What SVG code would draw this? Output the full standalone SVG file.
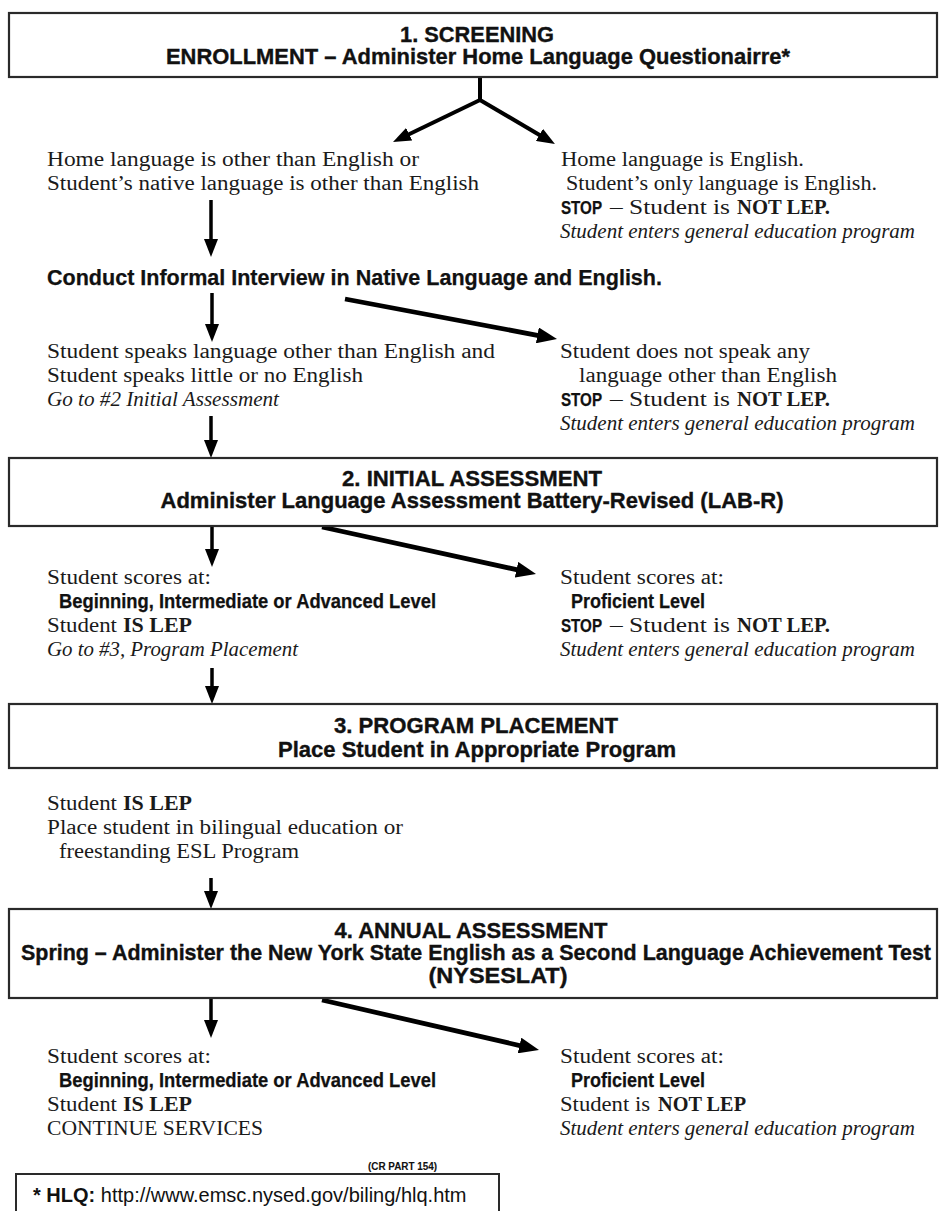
<svg xmlns="http://www.w3.org/2000/svg" width="939" height="1211" viewBox="0 0 939 1211">
<style>
.box{fill:#fff;stroke:#2a2a2a;stroke-width:2.2}
.h{font-family:"Liberation Sans Narrow","Liberation Sans",Arial,sans-serif;font-weight:bold;font-size:21.5px;fill:#111;stroke:#111;stroke-width:0.35;text-anchor:middle}
.s{font-family:"Liberation Serif","Times New Roman",serif;font-size:20px;fill:#1a1a1a}
.i{font-style:italic}
.b{font-weight:bold}
.sb{font-family:"Liberation Sans Narrow","Liberation Sans",Arial,sans-serif;font-weight:bold;font-size:19.5px;fill:#111;stroke:#111;stroke-width:0.25}
.stop{font-size:19px}
.c{stroke:#000;fill:none}
.v{stroke-width:3.5;marker-end:url(#ah)}
.d{stroke-width:4.8;marker-end:url(#ahd)}
</style>
<defs>
<marker id="ah" markerUnits="userSpaceOnUse" markerWidth="18" markerHeight="14" refX="6" refY="7" orient="auto">
<path d="M0,0 L18,7 L0,14 z" fill="#000"/>
</marker>
<marker id="ahd" markerUnits="userSpaceOnUse" markerWidth="20" markerHeight="16" refX="8" refY="8" orient="auto">
<path d="M0,0 L20,8 L0,16 z" fill="#000"/>
</marker>
</defs>
<rect width="939" height="1211" fill="#fff"/>

<g id="connectors">
<line x1="480" y1="77" x2="480" y2="101" stroke="#000" stroke-width="4"/>
<line class="c" x1="480" y1="100" x2="403.8" y2="136.8" stroke-width="4" marker-end="url(#ah)"/>
<line class="c" x1="480" y1="100" x2="544.6" y2="137.9" stroke-width="4" marker-end="url(#ah)"/>
<line class="c v" x1="211" y1="200" x2="211" y2="245"/>
<line class="c v" x1="212" y1="293" x2="212" y2="330"/>
<line class="c d" x1="345" y1="299" x2="545.2" y2="336.8"/>
<line class="c v" x1="211" y1="416" x2="211" y2="446"/>
<line class="c v" x1="212" y1="526" x2="212" y2="555"/>
<line class="c d" x1="322" y1="527" x2="524.3" y2="571.4"/>
<line class="c v" x1="212" y1="668" x2="212" y2="692"/>
<line class="c v" x1="211" y1="878" x2="211" y2="897"/>
<line class="c v" x1="211" y1="998" x2="211" y2="1026"/>
<line class="c d" x1="322" y1="1000" x2="527.3" y2="1047.3"/>
</g>

<g id="screening">
<rect class="box" x="9" y="13" width="928" height="64"/>
<text class="h" x="477" y="42" textLength="154" lengthAdjust="spacingAndGlyphs">1. SCREENING</text>
<text class="h" x="478" y="64" textLength="624" lengthAdjust="spacingAndGlyphs">ENROLLMENT – Administer Home Language Questionairre*</text>
</g>

<g id="home-other">
<text class="s" x="47" y="166" textLength="372" lengthAdjust="spacingAndGlyphs">Home language is other than English or</text>
<text class="s" x="47" y="190" textLength="432" lengthAdjust="spacingAndGlyphs">Student’s native language is other than English</text>
</g>

<g id="home-english">
<text class="s" x="561" y="166" textLength="243" lengthAdjust="spacingAndGlyphs">Home language is English.</text>
<text class="s" x="566" y="190" textLength="311" lengthAdjust="spacingAndGlyphs">Student’s only language is English.</text>
<text class="sb stop" x="561" y="214" textLength="41" lengthAdjust="spacingAndGlyphs">STOP</text>
<text class="s" x="610" y="214" textLength="120" lengthAdjust="spacingAndGlyphs">– Student is</text>
<text class="s b" x="737" y="214" textLength="93" lengthAdjust="spacingAndGlyphs">NOT LEP.</text>
<text class="s i" x="560" y="238" textLength="355" lengthAdjust="spacingAndGlyphs">Student enters general education program</text>
</g>

<g id="interview">
<text class="sb" x="47" y="285" style="font-size:22px" textLength="615" lengthAdjust="spacingAndGlyphs">Conduct Informal Interview in Native Language and English.</text>
</g>

<g id="speaks-other">
<text class="s" x="47" y="358" textLength="448" lengthAdjust="spacingAndGlyphs">Student speaks language other than English and</text>
<text class="s" x="47" y="382" textLength="316" lengthAdjust="spacingAndGlyphs">Student speaks little or no English</text>
<text class="s i" x="47" y="406" textLength="232" lengthAdjust="spacingAndGlyphs">Go to #2 Initial Assessment</text>
</g>

<g id="speaks-english-only">
<text class="s" x="560" y="358" textLength="250" lengthAdjust="spacingAndGlyphs">Student does not speak any</text>
<text class="s" x="579" y="382" textLength="258" lengthAdjust="spacingAndGlyphs">language other than English</text>
<text class="sb stop" x="561" y="406" textLength="41" lengthAdjust="spacingAndGlyphs">STOP</text>
<text class="s" x="610" y="406" textLength="120" lengthAdjust="spacingAndGlyphs">– Student is</text>
<text class="s b" x="737" y="406" textLength="93" lengthAdjust="spacingAndGlyphs">NOT LEP.</text>
<text class="s i" x="560" y="430" textLength="355" lengthAdjust="spacingAndGlyphs">Student enters general education program</text>
</g>

<g id="initial-assessment">
<rect class="box" x="9" y="458" width="928" height="68"/>
<text class="h" x="472" y="486" textLength="260" lengthAdjust="spacingAndGlyphs">2. INITIAL ASSESSMENT</text>
<text class="h" x="472" y="508" textLength="623" lengthAdjust="spacingAndGlyphs">Administer Language Assessment Battery-Revised (LAB-R)</text>
</g>

<g id="lab-lep">
<text class="s" x="47" y="584" textLength="164" lengthAdjust="spacingAndGlyphs">Student scores at:</text>
<text class="sb" x="59" y="608" textLength="377" lengthAdjust="spacingAndGlyphs">Beginning, Intermediate or Advanced Level</text>
<text class="s" x="47" y="632" textLength="70" lengthAdjust="spacingAndGlyphs">Student</text>
<text class="s b" x="123" y="632" textLength="69" lengthAdjust="spacingAndGlyphs">IS LEP</text>
<text class="s i" x="47" y="656" textLength="251" lengthAdjust="spacingAndGlyphs">Go to #3, Program Placement</text>
</g>

<g id="lab-proficient">
<text class="s" x="560" y="584" textLength="164" lengthAdjust="spacingAndGlyphs">Student scores at:</text>
<text class="sb" x="571" y="608" textLength="134" lengthAdjust="spacingAndGlyphs">Proficient Level</text>
<text class="sb stop" x="561" y="632" textLength="41" lengthAdjust="spacingAndGlyphs">STOP</text>
<text class="s" x="610" y="632" textLength="120" lengthAdjust="spacingAndGlyphs">– Student is</text>
<text class="s b" x="737" y="632" textLength="93" lengthAdjust="spacingAndGlyphs">NOT LEP.</text>
<text class="s i" x="560" y="656" textLength="355" lengthAdjust="spacingAndGlyphs">Student enters general education program</text>
</g>

<g id="program-placement">
<rect class="box" x="9" y="704" width="928" height="64"/>
<text class="h" x="476" y="733" textLength="284" lengthAdjust="spacingAndGlyphs">3. PROGRAM PLACEMENT</text>
<text class="h" x="477" y="757" textLength="398" lengthAdjust="spacingAndGlyphs">Place Student in Appropriate Program</text>
</g>

<g id="placement-text">
<text class="s" x="47" y="810" textLength="70" lengthAdjust="spacingAndGlyphs">Student</text>
<text class="s b" x="123" y="810" textLength="69" lengthAdjust="spacingAndGlyphs">IS LEP</text>
<text class="s" x="47" y="834" textLength="356" lengthAdjust="spacingAndGlyphs">Place student in bilingual education or</text>
<text class="s" x="59" y="858" textLength="240" lengthAdjust="spacingAndGlyphs">freestanding ESL Program</text>
</g>

<g id="annual-assessment">
<rect class="box" x="9" y="909" width="928" height="89"/>
<text class="h" x="471" y="938" textLength="273" lengthAdjust="spacingAndGlyphs">4. ANNUAL ASSESSMENT</text>
<text class="h" x="476" y="960" textLength="910" lengthAdjust="spacingAndGlyphs">Spring – Administer the New York State English as a Second Language Achievement Test</text>
<text class="h" x="498" y="983" textLength="139" lengthAdjust="spacingAndGlyphs">(NYSESLAT)</text>
</g>

<g id="annual-lep">
<text class="s" x="47" y="1063" textLength="164" lengthAdjust="spacingAndGlyphs">Student scores at:</text>
<text class="sb" x="59" y="1087" textLength="377" lengthAdjust="spacingAndGlyphs">Beginning, Intermediate or Advanced Level</text>
<text class="s" x="47" y="1111" textLength="70" lengthAdjust="spacingAndGlyphs">Student</text>
<text class="s b" x="123" y="1111" textLength="69" lengthAdjust="spacingAndGlyphs">IS LEP</text>
<text class="s" x="47" y="1135" textLength="216" lengthAdjust="spacingAndGlyphs">CONTINUE SERVICES</text>
</g>

<g id="annual-proficient">
<text class="s" x="560" y="1063" textLength="164" lengthAdjust="spacingAndGlyphs">Student scores at:</text>
<text class="sb" x="571" y="1087" textLength="134" lengthAdjust="spacingAndGlyphs">Proficient Level</text>
<text class="s" x="560" y="1111" textLength="90" lengthAdjust="spacingAndGlyphs">Student is</text>
<text class="s b" x="658" y="1111" textLength="88" lengthAdjust="spacingAndGlyphs">NOT LEP</text>
<text class="s i" x="560" y="1135" textLength="355" lengthAdjust="spacingAndGlyphs">Student enters general education program</text>
</g>

<g id="footnote">
<text class="sb" x="368" y="1170" style="font-size:11px;stroke-width:0.1" textLength="69" lengthAdjust="spacingAndGlyphs">(CR PART 154)</text>
<rect x="16" y="1174" width="483" height="50" fill="#fff" stroke="#2a2a2a" stroke-width="2"/>
<text x="33" y="1202" font-family="'Liberation Sans',Arial,sans-serif" font-size="20" fill="#111"><tspan font-weight="bold">* HLQ:</tspan> http://www.emsc.nysed.gov/biling/hlq.htm</text>
</g>
</svg>
